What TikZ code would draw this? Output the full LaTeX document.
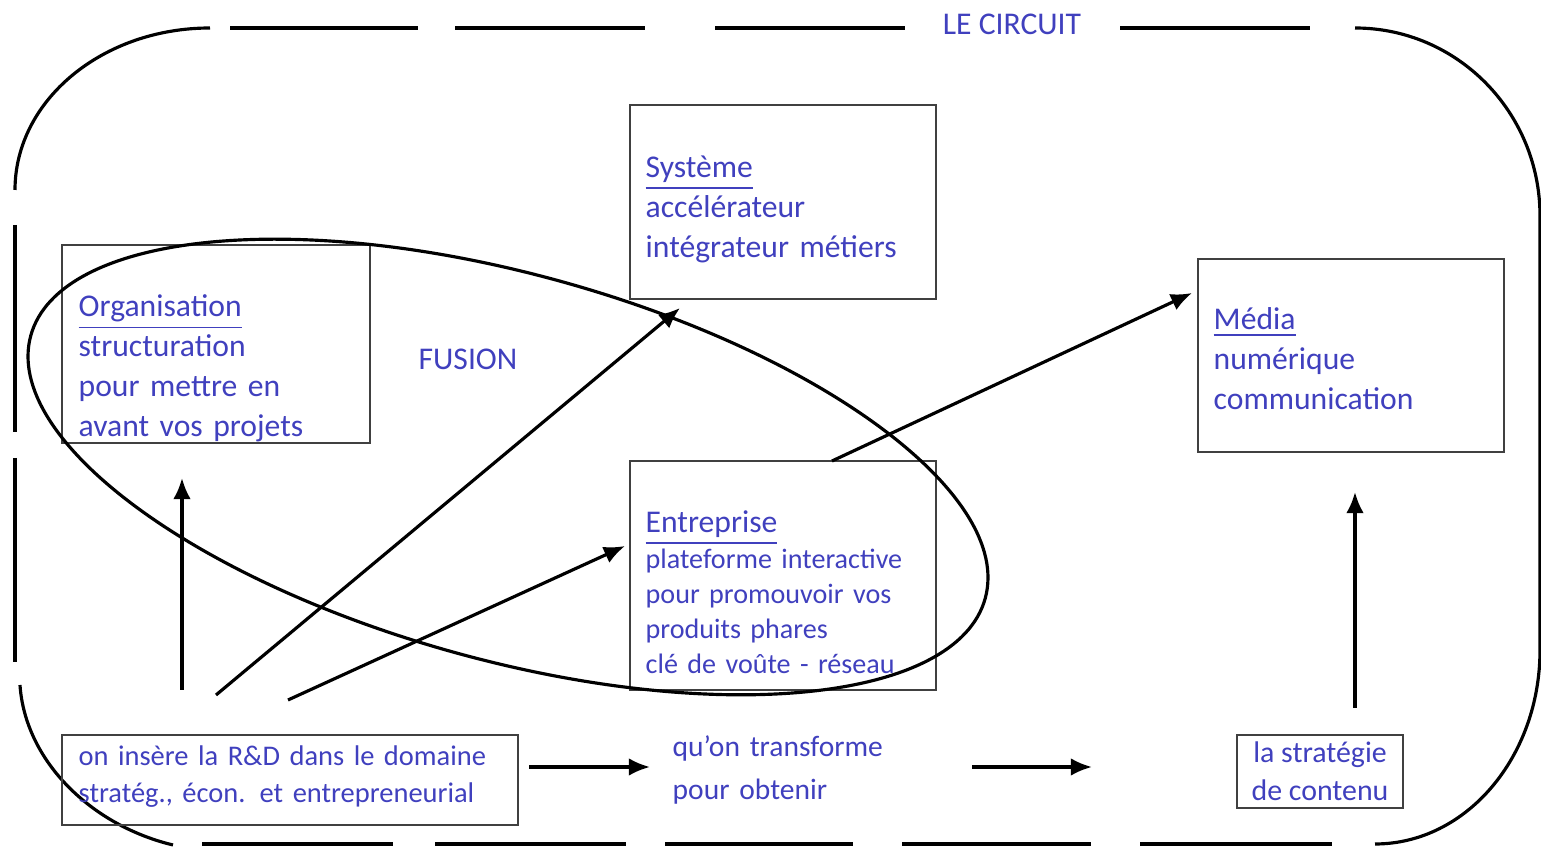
\documentclass[tikz,border=0pt]{standalone}
\usepackage{fontspec}
\setmainfont{Carlito}
\usetikzlibrary{arrows.meta}
\definecolor{txtblue}{RGB}{64,64,190}
\tikzset{
	cadre/.style={draw=black!75, line width=0.7pt, inner sep=0pt},
	texte/.style={text=txtblue, align=left, inner sep=0pt, anchor=base west, text width=#1, font=\fontsize{9}{11.3}\selectfont},
	texte/.default=3cm,
	fleche/.style={-{Latex[length=6pt,width=5pt]}, line width=0.9pt},
	bord/.style={line width=0.9pt}
}
\begin{document}
\begin{tikzpicture}
	\useasboundingbox (0,0) rectangle (15.41,-8.47);
	% le circuit
	\draw[bord] (2.10,-0.28) arc[start angle=90,end angle=180,x radius=1.95,y radius=1.62];
	\draw[bord] (0.15,-2.25)--(0.15,-4.32) (0.15,-4.58)--(0.15,-6.62);
	\draw[bord] (0.20,-6.85) .. controls (0.25,-7.60) and (0.90,-8.25) .. (1.73,-8.45);
	\draw[bord] (13.55,-0.28) arc[start angle=90,end angle=0,x radius=1.85,y radius=1.88]
	--(15.40,-6.50) arc[start angle=0,end angle=-90,x radius=1.65,y radius=1.94];
	\foreach \a/\b in {2.30/4.18,4.55/6.45,7.15/9.05,11.20/13.10}
	\draw[bord,line width=1.1pt] (\a,-0.28)--(\b,-0.28);
	\foreach \a/\b in {2.02/3.93,4.35/6.26,6.65/8.53,9.02/10.91,11.40/13.32}
	\draw[bord] (\a,-8.44)--(\b,-8.44);
	\node[text=txtblue,font=\fontsize{9}{11}\selectfont] (circuit) at (10.12,-0.24) {LE CIRCUIT};
	% les cases
	\node[cadre,minimum width=3.08cm,minimum height=1.98cm] (org) at (2.16,-3.44) {};
	\node[cadre,minimum width=3.06cm,minimum height=1.94cm] (sys) at (7.83,-2.02) {};
	\node[cadre,minimum width=3.06cm,minimum height=1.93cm] (media) at (13.51,-3.555) {};
	\node[cadre,minimum width=3.06cm,minimum height=2.29cm] (entr) at (7.83,-5.755) {};
	\node[cadre,minimum width=4.56cm,minimum height=0.90cm] (rd) at (2.90,-7.80) {};
	\node[cadre,minimum width=1.66cm,minimum height=0.73cm,text=txtblue,align=center,
	font=\fontsize{8.5}{10.2}\selectfont] (strat) at (13.20,-7.715) {la stratégie\\[0.5pt]de contenu};
	\node[texte] (orgtxt) at (0.78,-3.17) {\underline{Organisation}\\structuration\\pour mettre en\\avant vos projets};
	\node[texte] (systxt) at (6.45,-1.78) {\underline{Système}\\accélérateur\\intégrateur métiers};
	\node[texte] (mediatxt) at (12.13,-3.30) {\underline{Média}\\numérique\\communication};
	\node[texte,font=\fontsize{8}{10}\selectfont] (entrtxt) at (6.45,-5.33)
	{{\fontsize{9}{10}\selectfont\underline{Entreprise}}\\plateforme interactive\\pour promouvoir vos\\produits phares\\clé de voûte - réseau};
	\node[texte=4.5cm,font=\fontsize{8.1}{10.5}\selectfont] (rdtxt) at (0.78,-7.66)
	{on insère la R\&D dans le domaine\\stratég., écon. et entrepreneurial};
	\node[texte,font=\fontsize{8.4}{12}\selectfont] (trans) at (6.72,-7.57) {qu'on transforme\\pour obtenir};
	\node[text=txtblue,font=\fontsize{9}{11}\selectfont] (fusion) at (4.68,-3.59) {FUSION};
	% la fusion
	\draw[line width=0.9pt, rotate around={-15.4:(5.08,-4.67)}] (5.08,-4.67) ellipse (4.95 and 1.93);
	% les fleches
	\coordinate (a1) at (1.82,-6.90);
	\coordinate (a2) at (2.16,-6.95);
	\coordinate (a3) at (2.88,-7.00);
	\coordinate (b1) at (1.82,-4.78);
	\coordinate (b2) at (6.80,-3.08);
	\coordinate (b3) at (6.25,-5.46);
	\coordinate (e1) at (8.32,-4.61);
	\coordinate (m1) at (11.92,-2.93);
	\coordinate (s1) at (13.55,-7.08);
	\coordinate (m2) at (13.55,-4.92);
	\coordinate (t1) at (6.50,-7.67);
	\coordinate (t2) at (9.72,-7.67);
	\coordinate (t3) at (10.92,-7.67);
	\draw[fleche] (a1)--(b1);
	\draw[fleche] (a2)--(b2);
	\draw[fleche] (a3)--(b3);
	\draw[fleche] (e1)--(m1);
	\draw[fleche] (s1)--(m2);
	\draw[fleche] ([xshift=0.10cm]rd.east|-t1)--(t1);
	\draw[fleche] (t2)--(t3);
\end{tikzpicture}
\end{document}
